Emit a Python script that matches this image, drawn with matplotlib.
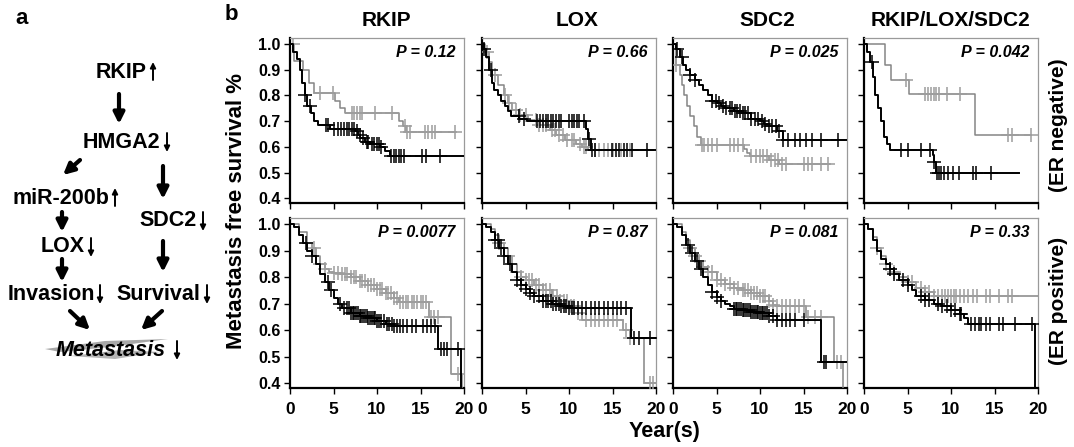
import numpy as np
import matplotlib
matplotlib.use("Agg")
import matplotlib.pyplot as plt
from matplotlib.patches import Polygon

plt.rcParams['font.family'] = ['Liberation Sans', 'DejaVu Sans']
plt.rcParams['font.weight'] = 'bold'

genes = ["RKIP", "LOX", "SDC2", "RKIP/LOX/SDC2"]
groups = ["(ER negative)", "(ER positive)"]
p_values = [["P = 0.12", "P = 0.66", "P = 0.025", "P = 0.042"],
            ["P = 0.0077", "P = 0.87", "P = 0.081", "P = 0.33"]]
x_ticks = [0, 5, 10, 15, 20]
y_ticks = [0.4, 0.5, 0.6, 0.7, 0.8, 0.9, 1.0]

# ---- ER negative ----
rkip_neg_black_t = [0, 0.4, 0.8, 1.1, 1.4, 1.7, 2.0, 2.4, 2.8, 3.2, 4.6, 7.5, 7.8, 8.1, 8.6, 9.2, 10.3, 10.9, 11.5, 20]
rkip_neg_black_s = [1.0, 0.97, 0.94, 0.90, 0.85, 0.80, 0.76, 0.73, 0.70, 0.685, 0.67, 0.66, 0.645, 0.635, 0.62, 0.61, 0.60, 0.585, 0.563, 0.563]
rkip_neg_black_c = [1.7, 2.3, 4.1, 4.4, 5.0, 5.5, 5.9, 6.2, 6.5, 6.8, 7.1, 7.4, 7.7, 8.0, 8.4, 8.8, 9.0, 9.4,
                    9.7, 10.0, 10.2, 10.5, 11.6, 11.9, 12.2, 12.5, 12.8, 13.1, 15.2, 15.6, 17.2]
rkip_neg_gray_t = [0, 0.5, 1.5, 2.2, 2.8, 5.2, 5.8, 6.3, 12.5, 13.0, 13.3, 19.1]
rkip_neg_gray_s = [1.0, 0.935, 0.90, 0.85, 0.81, 0.78, 0.75, 0.73, 0.70, 0.68, 0.658, 0.658]
rkip_neg_gray_c = [0.3, 3.4, 4.9, 7.1, 7.4, 7.7, 8.0, 8.3, 9.8, 11.7, 13.2, 13.5, 13.8, 15.5, 15.9, 16.3, 16.7, 19.0]

lox_neg_black_t = [0, 0.2, 0.5, 0.8, 1.1, 1.4, 1.8, 2.2, 2.6, 3.0, 3.3, 4.3, 5.2, 12.0, 12.2, 12.5, 20]
lox_neg_black_s = [1.0, 0.98, 0.95, 0.90, 0.85, 0.82, 0.80, 0.78, 0.76, 0.74, 0.72, 0.71, 0.699, 0.67, 0.63, 0.587, 0.587]
lox_neg_black_c = [0.2, 1.0, 4.2, 4.8, 6.3, 6.7, 7.0, 7.3, 7.6, 7.9, 8.2, 8.5, 8.8, 9.1, 10.0, 10.3, 10.6, 10.9,
                   11.2, 11.7, 12.3, 12.7, 13.0, 14.9, 15.4, 15.8, 16.3, 16.7, 17.2, 19.0]
lox_neg_gray_t = [0, 0.3, 0.8, 1.2, 1.8, 2.5, 3.0, 3.5, 4.2, 5.3, 6.5, 7.8, 8.5, 9.5, 10.8, 11.5, 12.2, 18.0]
lox_neg_gray_s = [1.0, 0.97, 0.93, 0.88, 0.84, 0.80, 0.77, 0.745, 0.725, 0.705, 0.685, 0.665, 0.645, 0.625, 0.61, 0.60, 0.587, 0.587]
lox_neg_gray_c = [0.6, 1.5, 2.6, 3.1, 3.9, 4.4, 5.0, 6.2, 6.6, 7.0, 7.4, 8.0, 8.4, 8.9, 9.3, 9.8, 10.3, 10.6,
                  11.3, 11.7, 12.0, 13.0, 13.5, 14.0, 14.5, 15.0, 16.0, 17.0]

sdc2_neg_black_t = [0, 0.3, 0.8, 1.2, 1.5, 2.0, 2.5, 3.0, 3.5, 4.0, 4.5, 5.0, 5.5, 6.0, 7.0, 8.0, 9.0, 10.0, 10.5, 11.0, 12.0, 12.6, 20]
sdc2_neg_black_s = [1.0, 0.98, 0.95, 0.92, 0.90, 0.88, 0.86, 0.84, 0.82, 0.80, 0.78, 0.77, 0.76, 0.75, 0.74, 0.73, 0.71, 0.70, 0.69, 0.68, 0.66, 0.628, 0.628]
sdc2_neg_black_c = [0.5, 1.0, 2.0, 2.5, 4.5, 4.9, 5.3, 5.7, 6.1, 6.5, 6.8, 7.1, 7.4, 7.7, 8.0, 8.3, 8.6, 9.0, 9.4,
                    9.8, 10.2, 10.6, 11.0, 11.4, 11.8, 12.2, 12.6, 13.2, 14.0, 14.6, 15.3, 16.0, 17.0, 19.0]
sdc2_neg_gray_t = [0, 0.3, 0.8, 1.0, 1.3, 1.6, 2.0, 2.4, 2.8, 3.2, 8.2, 8.5, 8.8, 11.0, 12.2, 18.0]
sdc2_neg_gray_s = [1.0, 0.92, 0.88, 0.84, 0.80, 0.76, 0.72, 0.68, 0.64, 0.607, 0.59, 0.575, 0.565, 0.55, 0.532, 0.532]
sdc2_neg_gray_c = [0.4, 3.3, 3.6, 4.0, 4.5, 5.0, 6.5, 7.0, 7.5, 8.0, 9.0, 9.5, 10.0, 10.4, 10.8, 11.3, 11.7,
                   12.1, 12.5, 13.0, 15.0, 15.5, 16.0, 17.0, 17.8]

comb_neg_black_t = [0, 0.4, 0.7, 1.0, 1.3, 1.6, 2.0, 2.3, 2.6, 3.0, 7.9, 8.1, 8.3, 17.8]
comb_neg_black_s = [1.0, 0.97, 0.93, 0.87, 0.80, 0.75, 0.70, 0.64, 0.61, 0.587, 0.57, 0.54, 0.50, 0.50]
comb_neg_black_c = [0.9, 4.3, 5.0, 6.6, 7.6, 8.1, 8.4, 8.6, 8.9, 9.2, 9.7, 10.2, 10.9, 12.5, 12.9, 14.6]
comb_neg_gray_t = [0, 2.4, 3.1, 5.2, 12.8, 19.2]
comb_neg_gray_s = [1.0, 0.92, 0.86, 0.804, 0.645, 0.645]
comb_neg_gray_c = [4.8, 7.0, 7.3, 7.7, 8.0, 8.3, 8.6, 9.5, 11.0, 16.5, 17.0, 19.2]

# ---- ER positive ----
rkip_pos_black_t = [0, 0.5, 1.0, 1.5, 2.0, 2.5, 3.0, 3.5, 4.0, 4.5, 5.0, 5.5, 6.0, 7.0, 8.0, 9.0, 10.0, 11.0, 12.0, 17.0, 19.7, 20]
rkip_pos_black_s = [1.0, 0.99, 0.96, 0.93, 0.90, 0.88, 0.85, 0.81, 0.78, 0.75, 0.72, 0.70, 0.685, 0.665, 0.655, 0.645, 0.635, 0.625, 0.615, 0.53, 0.38, 0.38]
rkip_pos_black_c = [1.8, 2.5, 4.4, 4.7, 5.8, 6.2, 6.5, 6.8, 7.0, 7.2, 7.4, 7.6, 7.8, 8.0, 8.2, 8.4, 8.6, 8.8, 9.0,
                    9.2, 9.4, 9.6, 9.8, 10.0, 10.2, 10.5, 10.8, 11.1, 11.4, 11.7, 12.0, 12.3, 12.6, 13.0, 13.5,
                    14.0, 14.5, 15.3, 15.7, 16.2, 16.7, 17.4, 17.7, 18.0, 19.3]
rkip_pos_gray_t = [0, 1.0, 2.0, 2.5, 3.0, 3.5, 4.0, 4.5, 5.0, 6.0, 7.0, 8.0, 9.0, 10.0, 11.0, 12.0, 12.5, 16.0, 18.5, 19.8, 20]
rkip_pos_gray_s = [1.0, 0.97, 0.93, 0.91, 0.88, 0.85, 0.83, 0.82, 0.815, 0.81, 0.80, 0.785, 0.77, 0.755, 0.74, 0.72, 0.705, 0.651, 0.435, 0.38, 0.38]
rkip_pos_gray_c = [2.0, 2.8, 3.5, 4.0, 5.0, 5.5, 6.0, 6.3, 6.6, 7.0, 7.3, 7.6, 8.0, 8.3, 8.6, 9.0, 9.3, 9.6, 10.0,
                   10.3, 10.6, 11.0, 11.3, 11.6, 12.0, 12.3, 12.6, 13.0, 13.3, 13.6, 14.0, 14.3, 14.6, 15.0,
                   15.3, 15.6, 16.2, 16.6, 17.0, 19.3]

lox_pos_black_t = [0, 0.5, 1.0, 1.5, 2.0, 2.5, 3.0, 3.5, 4.0, 4.5, 5.0, 5.5, 6.0, 7.0, 8.0, 9.0, 10.0, 17.1, 20]
lox_pos_black_s = [1.0, 0.99, 0.97, 0.94, 0.91, 0.88, 0.85, 0.82, 0.79, 0.77, 0.755, 0.74, 0.73, 0.71, 0.70, 0.69, 0.684, 0.57, 0.57]
lox_pos_black_c = [1.5, 1.8, 2.2, 2.5, 3.2, 4.0, 4.5, 5.0, 5.5, 6.0, 6.5, 7.0, 7.3, 7.6, 7.9, 8.2, 8.5, 8.8, 9.1,
                   9.4, 9.7, 10.0, 10.3, 10.6, 11.0, 11.5, 12.0, 12.5, 13.0, 13.5, 14.0, 14.5, 15.0, 15.5, 16.0,
                   16.5, 17.5, 18.0, 19.3]
lox_pos_gray_t = [0, 1.0, 1.5, 2.0, 2.5, 3.0, 3.5, 4.0, 4.5, 5.0, 6.0, 7.0, 8.0, 9.0, 10.0, 11.0, 11.5, 16.2, 17.0, 18.6, 20]
lox_pos_gray_s = [1.0, 0.98, 0.96, 0.93, 0.91, 0.88, 0.85, 0.82, 0.80, 0.79, 0.77, 0.75, 0.73, 0.71, 0.69, 0.665, 0.64, 0.60, 0.57, 0.40, 0.40]
lox_pos_gray_c = [2.0, 3.0, 4.0, 4.5, 5.0, 5.4, 5.8, 6.2, 6.6, 7.0, 7.4, 7.8, 8.2, 8.6, 9.0, 9.4, 9.8, 10.2,
                  10.6, 11.0, 12.0, 12.5, 13.0, 13.5, 14.0, 14.5, 15.0, 15.5, 16.5, 17.0, 19.3, 19.6]

sdc2_pos_black_t = [0, 0.5, 1.0, 1.5, 2.0, 2.5, 3.0, 3.5, 4.0, 4.5, 5.0, 5.5, 6.0, 6.5, 7.0, 8.0, 9.0, 10.0, 11.0, 12.0, 17.0, 20]
sdc2_pos_black_s = [1.0, 0.99, 0.96, 0.92, 0.89, 0.86, 0.83, 0.80, 0.77, 0.745, 0.725, 0.71, 0.70, 0.69, 0.68, 0.675, 0.67, 0.665, 0.655, 0.64, 0.48, 0.48]
sdc2_pos_black_c = [1.7, 2.2, 2.8, 3.2, 4.5, 5.0, 5.5, 7.0, 7.2, 7.4, 7.6, 7.8, 8.0, 8.2, 8.4, 8.6, 8.8, 9.0, 9.2,
                    9.4, 9.6, 9.8, 10.0, 10.2, 10.4, 10.6, 10.8, 11.0, 11.5, 12.0, 12.5, 13.0, 13.5, 14.0, 15.0,
                    17.3, 17.6]
sdc2_pos_gray_t = [0, 1.0, 1.5, 2.0, 2.5, 3.0, 3.5, 4.0, 5.0, 6.0, 7.0, 8.0, 9.0, 10.0, 11.0, 11.5, 12.0, 15.3, 18.5, 19.5, 20]
sdc2_pos_gray_s = [1.0, 0.97, 0.94, 0.91, 0.88, 0.86, 0.84, 0.82, 0.79, 0.775, 0.76, 0.75, 0.74, 0.73, 0.71, 0.695, 0.69, 0.648, 0.48, 0.38, 0.38]
sdc2_pos_gray_c = [2.0, 2.5, 3.0, 3.5, 4.0, 4.5, 5.0, 5.5, 6.0, 6.5, 7.0, 7.5, 8.0, 8.3, 8.6, 9.0, 9.3, 9.6, 10.0,
                   10.3, 10.6, 11.0, 11.5, 12.0, 12.5, 13.0, 13.5, 14.0, 14.5, 15.0, 15.5, 16.3, 17.0, 18.9, 19.3]

comb_pos_black_t = [0, 0.5, 1.0, 1.5, 2.0, 2.5, 3.0, 3.5, 4.0, 5.0, 5.5, 6.0, 7.0, 8.0, 9.0, 10.0, 11.0, 11.5, 12.0, 19.6, 20]
comb_pos_black_s = [1.0, 0.98, 0.94, 0.90, 0.87, 0.85, 0.83, 0.81, 0.79, 0.77, 0.75, 0.73, 0.715, 0.70, 0.69, 0.675, 0.66, 0.645, 0.625, 0.38, 0.38]
comb_pos_black_c = [3.0, 3.5, 4.5, 5.0, 6.5, 7.0, 7.5, 8.5, 9.0, 9.5, 10.0, 10.5, 11.0, 11.2, 12.3, 12.8, 13.2,
                    13.5, 14.0, 14.5, 15.5, 16.0, 17.3, 19.3]
comb_pos_gray_t = [0, 0.5, 1.0, 1.5, 2.0, 2.5, 3.0, 3.5, 4.0, 5.0, 6.0, 7.0, 8.0, 20]
comb_pos_gray_s = [1.0, 0.98, 0.95, 0.91, 0.88, 0.85, 0.83, 0.82, 0.80, 0.78, 0.76, 0.745, 0.73, 0.73]
comb_pos_gray_c = [1.5, 2.5, 3.0, 3.5, 5.0, 5.5, 6.5, 7.0, 7.5, 8.0, 8.5, 9.0, 9.3, 9.6, 10.0, 10.3, 10.6, 11.0,
                   11.5, 12.0, 12.5, 13.0, 14.0, 14.5, 15.5, 16.5, 17.0]

curves = [
    [(rkip_neg_black_t, rkip_neg_black_s, rkip_neg_black_c, rkip_neg_gray_t, rkip_neg_gray_s, rkip_neg_gray_c),
     (lox_neg_black_t, lox_neg_black_s, lox_neg_black_c, lox_neg_gray_t, lox_neg_gray_s, lox_neg_gray_c),
     (sdc2_neg_black_t, sdc2_neg_black_s, sdc2_neg_black_c, sdc2_neg_gray_t, sdc2_neg_gray_s, sdc2_neg_gray_c),
     (comb_neg_black_t, comb_neg_black_s, comb_neg_black_c, comb_neg_gray_t, comb_neg_gray_s, comb_neg_gray_c)],
    [(rkip_pos_black_t, rkip_pos_black_s, rkip_pos_black_c, rkip_pos_gray_t, rkip_pos_gray_s, rkip_pos_gray_c),
     (lox_pos_black_t, lox_pos_black_s, lox_pos_black_c, lox_pos_gray_t, lox_pos_gray_s, lox_pos_gray_c),
     (sdc2_pos_black_t, sdc2_pos_black_s, sdc2_pos_black_c, sdc2_pos_gray_t, sdc2_pos_gray_s, sdc2_pos_gray_c),
     (comb_pos_black_t, comb_pos_black_s, comb_pos_black_c, comb_pos_gray_t, comb_pos_gray_s, comb_pos_gray_c)],
]

# pathway diagram: (label, right edge of text, small arrow x, centre y, direction)
nodes = [("RKIP", 147, 153, 72, "up"), ("HMGA2", 160, 167, 142, "down"),
         ("miR-200b", 109, 115, 198, "up"), ("SDC2", 197, 203, 221, "down"),
         ("LOX", 85, 91, 247, "down"), ("Invasion", 95, 100, 294, "down"),
         ("Survival", 200, 207, 294, "down")]
big_arrows = [((119, 94), (119, 124)), ((80, 160), (63, 175)), ((163, 166), (163, 199)),
              ((62, 212), (62, 232)), ((163, 241), (163, 272)), ((62, 259), (62, 282)),
              ((70, 311), (90, 330)), ((162, 311), (141, 330))]

W, H = 1074, 447
fig = plt.figure(figsize=(W / 100, H / 100), dpi=100)


def px_axes(x0, y0, x1, y1):
    # pixel box (top-left origin) -> figure axes
    return fig.add_axes([x0 / W, 1 - y1 / H, (x1 - x0) / W, (y1 - y0) / H])


def km(ax, t, s, cens, line_col, mark_col, lw):
    t = np.asarray(t)
    s = np.asarray(s)
    ax.step(t, s, where='post', color=line_col, lw=lw, zorder=3)
    c = np.asarray(cens)
    cy = s[np.searchsorted(t, c, side='right') - 1]
    ax.plot(c, cy, ls='none', marker='+', ms=10, mew=1.1, color=mark_col, zorder=3)


col_left = [290, 482, 673, 864]
col_w = 174
row_box = [(38, 203), (218, 388)]

for r in range(2):
    for c in range(4):
        y0, y1 = row_box[r]
        ax = px_axes(col_left[c], y0, col_left[c] + col_w, y1)
        bt, bs, bc, gt, gs, gc = curves[r][c]
        km(ax, gt, gs, gc, '#858585', '#9d9d9d', 1.1)
        km(ax, bt, bs, bc, 'black', 'black', 1.4)
        ax.set_xlim(0, 20)
        ax.set_ylim(0.382, 1.023)
        ax.set_xticks(x_ticks)
        ax.set_yticks(y_ticks)
        ax.set_yticklabels([f"{v:.1f}" for v in y_ticks])
        for side in ['top', 'right']:
            ax.spines[side].set_color('#9a9a9a')
            ax.spines[side].set_linewidth(0.9)
        for side in ['left', 'bottom']:
            ax.spines[side].set_color('black')
            ax.spines[side].set_linewidth(1.6)
        ax.tick_params(axis='y', direction='out', length=4, width=1, pad=3,
                       labelsize=11.5, labelleft=(c == 0))
        ax.tick_params(axis='x', direction='out', length=4, width=1, pad=6,
                       labelsize=12.5, labelbottom=(r == 1))
        for lab in ax.get_xticklabels() + ax.get_yticklabels():
            lab.set_fontweight('bold')
        ax.text(0.95, 0.915, p_values[r][c], transform=ax.transAxes, ha='right', va='center',
                fontsize=11.5, fontweight='bold', fontstyle='italic')

# overlay axes in pixel coordinates for labels and the pathway diagram
ov = fig.add_axes([0, 0, 1, 1], zorder=-1)
ov.set_xlim(0, W)
ov.set_ylim(H, 0)
ov.axis('off')

title_x = [386, 577, 767, 951]
for x, g in zip(title_x, genes):
    ov.text(x, 21, g, ha='center', va='center', fontsize=15, fontweight='bold')
ov.text(236, 211, "Metastasis free survival %", rotation=90, ha='center', va='center',
        fontsize=16, fontweight='bold')
ov.text(665, 431, "Year(s)", ha='center', va='center', fontsize=15.5, fontweight='bold')
ov.text(1059, 125, groups[0], rotation=90, ha='center', va='center', fontsize=15, fontweight='bold')
ov.text(1059, 301, groups[1], rotation=90, ha='center', va='center', fontsize=15, fontweight='bold')
ov.text(231, 15, "b", ha='center', va='center', fontsize=16, fontweight='bold')
ov.text(22, 18, "a", ha='center', va='center', fontsize=16, fontweight='bold')

# gray smear behind "Metastasis"
ov.add_patch(Polygon([(45, 349), (105, 341), (168, 339), (110, 347), (60, 352)],
                     closed=True, color='#a8a8a8', lw=0, zorder=1))
ov.add_patch(Polygon([(70, 356), (120, 350), (160, 352), (115, 359)],
                     closed=True, color='#b5b5b5', lw=0, zorder=1))


def small_arrow(x, yc, direction):
    top, bot = (yc - 9, yc + 10) if direction == "down" else (yc - 10, yc + 8)
    start, end = ((x, top), (x, bot)) if direction == "down" else ((x, bot), (x, top))
    ov.annotate("", xy=end, xytext=start,
                arrowprops=dict(arrowstyle='-|>', lw=1.4, color='black', mutation_scale=8,
                                shrinkA=0, shrinkB=0), zorder=2)


for txt, xr, xa, y, d in nodes:
    ov.text(xr, y, txt, ha='right', va='center', fontsize=15.5, fontweight='bold', zorder=2)
    small_arrow(xa, y, d)
ov.text(166, 350, "Metastasis", ha='right', va='center', fontsize=15.5, fontweight='bold',
        fontstyle='italic', zorder=2)
small_arrow(177, 350, "down")

for (xs, ys), (xe, ye) in big_arrows:
    ov.annotate("", xy=(xe, ye), xytext=(xs, ys),
                arrowprops=dict(arrowstyle='-|>', lw=3, color='black', mutation_scale=16,
                                shrinkA=0, shrinkB=0))

fig.savefig("out.png", dpi=100)
